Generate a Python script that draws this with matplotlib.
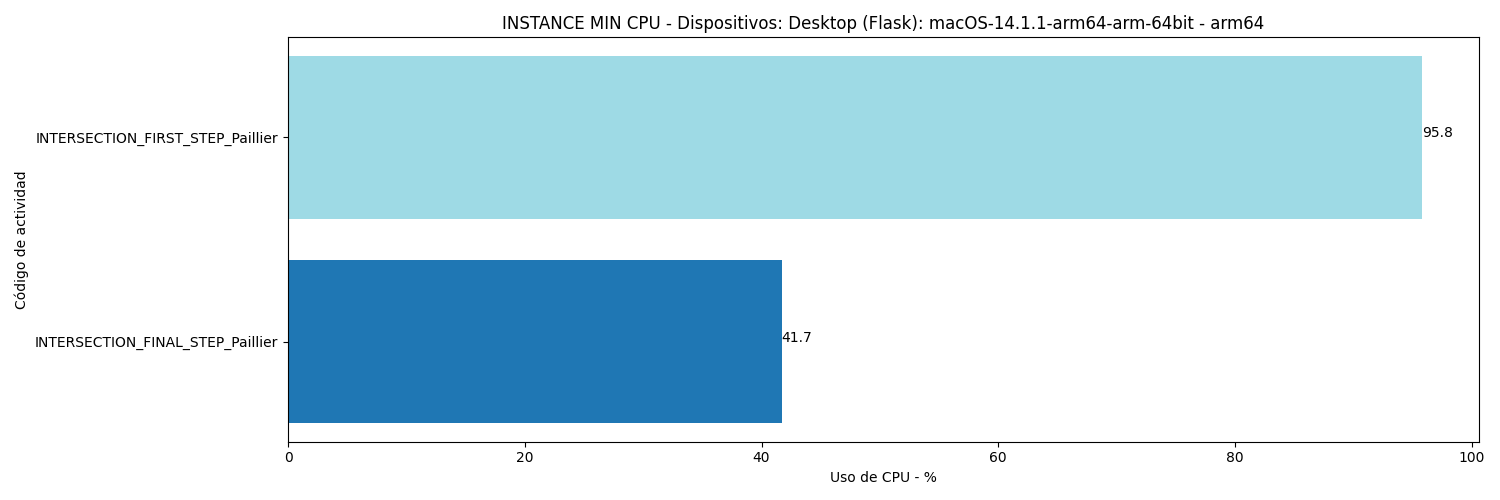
import numpy as np
from matplotlib import pyplot as plt

actividades = ['INTERSECTION_FINAL_STEP_Paillier', 'INTERSECTION_FIRST_STEP_Paillier']
uso_cpu = [41.7, 95.8]

colores = plt.cm.tab20(np.linspace(0, 1, len(actividades)))

fig, ax = plt.subplots(figsize=(15, 5), dpi=100)
barras = ax.barh(actividades, uso_cpu, color=colores)

for b, v in zip(barras, uso_cpu):
    ax.text(b.get_width(), b.get_y() + b.get_height() / 2, str(v))

ax.set_title('INSTANCE MIN CPU - Dispositivos: Desktop (Flask): macOS-14.1.1-arm64-arm-64bit - arm64')
ax.set_xlabel('Uso de CPU - %')
ax.set_ylabel('Código de actividad')

plt.tight_layout()
plt.savefig('out.png')
